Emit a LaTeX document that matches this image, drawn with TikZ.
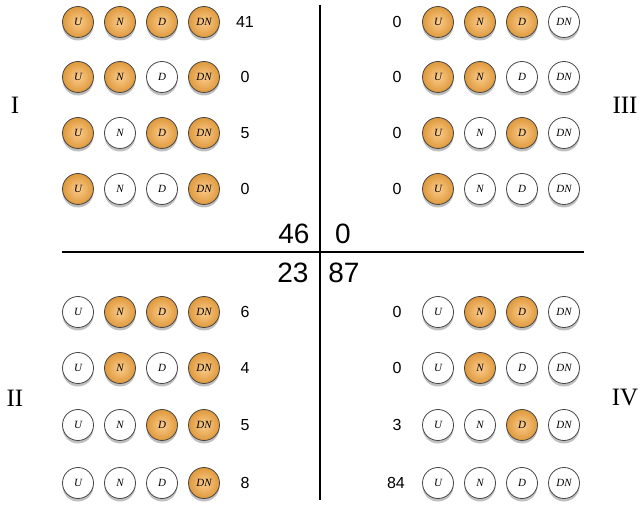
\documentclass[tikz,border=0pt]{standalone}
\usepackage{fontspec}
\setmainfont{Liberation Serif}
\setsansfont{Liberation Sans}
\usetikzlibrary{shadows}
\definecolor{ballorange}{RGB}{248,170,66}
\definecolor{ballrim}{RGB}{70,70,70}
\tikzset{
	ball/.style={circle, draw=ballrim, line width=0.8pt, minimum size=31pt, inner sep=0pt,
		font=\itshape\fontsize{11}{11}\selectfont,
		drop shadow={shadow xshift=0pt, shadow yshift=-3pt, opacity=0.5}},
	on/.style={ball, shade, shading=radial, inner color=ballorange!60!white, outer color=ballorange!90!black},
	off/.style={ball, fill=white},
	count/.style={font=\sffamily\fontsize{16}{16}\selectfont},
	total/.style={font=\sffamily\fontsize{28}{28}\selectfont},
	quad/.style={font=\fontsize{25}{25}\selectfont}
}
% one row of four balls: name, x, y, then the four styles
\newcommand{\ballrow}[7]{%
	\node[#4] (#1u) at (#2,#3) {U};
	\node[#5] (#1n) at (#2+42,#3) {N};
	\node[#6] (#1d) at (#2+84,#3) {D};
	\node[#7] (#1dn) at (#2+126,#3) {DN};
}

\begin{document}
\begin{tikzpicture}[x=1pt, y=-1pt]
	\useasboundingbox (0,0) rectangle (641,508);
	% quadrant I
	\ballrow{a}{78}{22}{on}{on}{on}{on}
	\ballrow{b}{78}{77}{on}{on}{off}{on}
	\ballrow{c}{78}{133}{on}{off}{on}{on}
	\ballrow{d}{78}{189}{on}{off}{off}{on}
	\node[count] (na) at (245,22) {41};
	\node[count] (nb) at (245,77) {0};
	\node[count] (nc) at (245,133) {5};
	\node[count] (nd) at (245,189) {0};
	% quadrant III
	\ballrow{e}{438}{22}{on}{on}{on}{off}
	\ballrow{f}{438}{77}{on}{on}{off}{off}
	\ballrow{g}{438}{133}{on}{off}{on}{off}
	\ballrow{h}{438}{189}{on}{off}{off}{off}
	\node[count] (ne) at (397,22) {0};
	\node[count] (nf) at (397,77) {0};
	\node[count] (ng) at (397,133) {0};
	\node[count] (nh) at (397,189) {0};
	% quadrant II
	\ballrow{i}{78}{312}{off}{on}{on}{on}
	\ballrow{j}{78}{368}{off}{on}{off}{on}
	\ballrow{k}{78}{425}{off}{off}{on}{on}
	\ballrow{l}{78}{483}{off}{off}{off}{on}
	\node[count] (ni) at (245,312) {6};
	\node[count] (nj) at (245,368) {4};
	\node[count] (nk) at (245,425) {5};
	\node[count] (nl) at (245,483) {8};
	% quadrant IV
	\ballrow{m}{438}{312}{off}{on}{on}{off}
	\ballrow{n}{438}{368}{off}{on}{off}{off}
	\ballrow{o}{438}{425}{off}{off}{on}{off}
	\ballrow{p}{438}{483}{off}{off}{off}{off}
	\node[count] (nm) at (397,312) {0};
	\node[count] (nn) at (397,368) {0};
	\node[count] (no) at (397,425) {3};
	\node[count] (np) at (396,483) {84};
	% axes and totals
	\draw[line width=1.2pt] (320,5) -- (320,500);
	\draw[line width=1.2pt] (62,252) -- (584,252);
	\node[total] (tI) at (294,234) {46};
	\node[total] (tIII) at (343,234) {0};
	\node[total] (tII) at (293,273) {23};
	\node[total] (tIV) at (344,273) {87};
	\node[quad] (qI) at (15,105) {I};
	\node[quad] (qII) at (15,398) {II};
	\node[quad] (qIII) at (625,105) {III};
	\node[quad] (qIV) at (625,398) {IV};
\end{tikzpicture}
\end{document}
